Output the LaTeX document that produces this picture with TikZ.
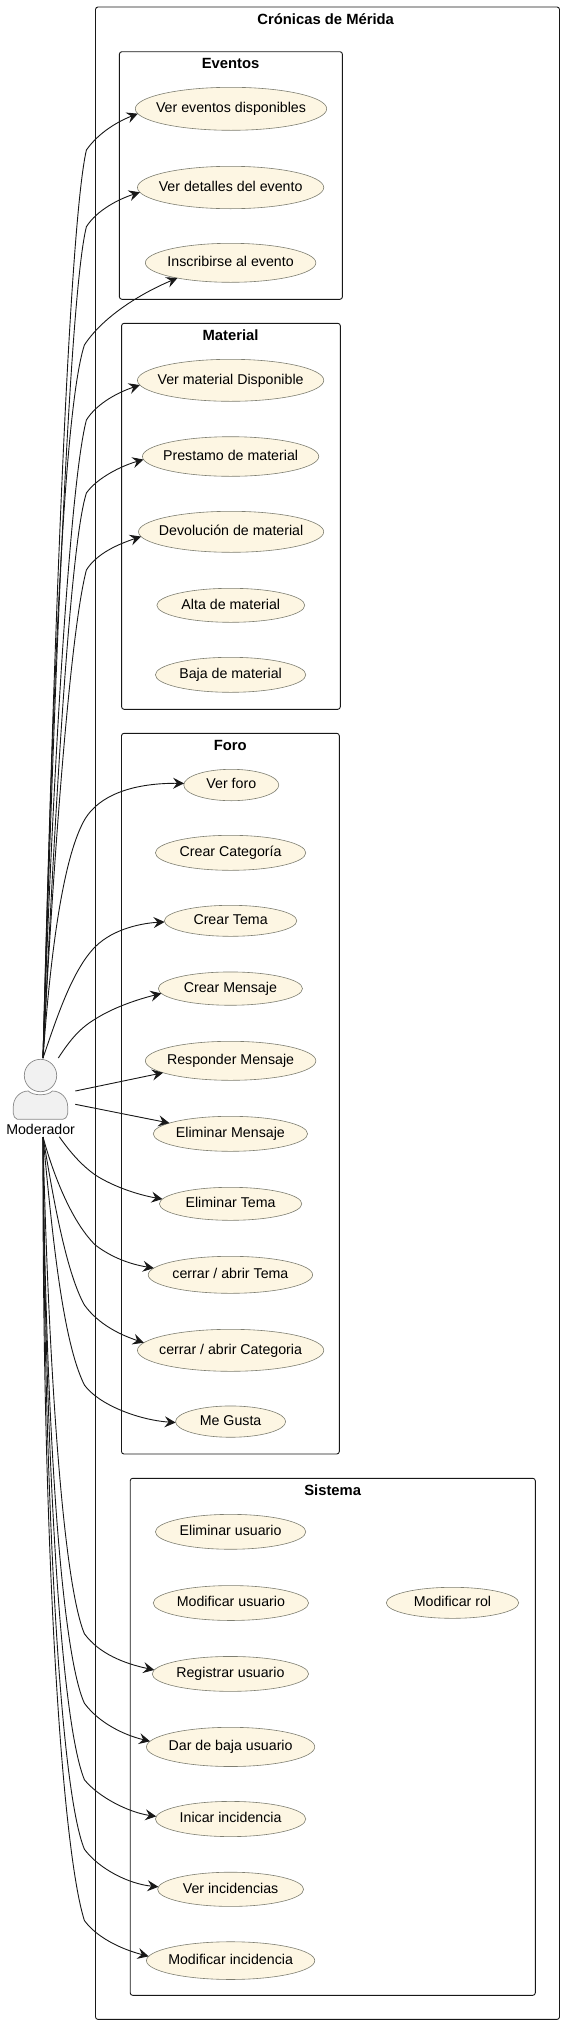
\documentclass[tikz,border=0pt]{standalone}
\usepackage{fontspec}
\setmainfont{Liberation Sans}
\usetikzlibrary{shapes.geometric,arrows.meta}
\definecolor{ink}{HTML}{181818}
\definecolor{ucfill}{HTML}{FDF6E3}
\definecolor{ucline}{HTML}{7F7F72}
\definecolor{actfill}{HTML}{F1F1F1}
\definecolor{actline}{HTML}{8A8A8A}
\tikzset{
  usecase/.style={ellipse,draw=ucline,fill=ucfill,line width=0.6pt,inner sep=0pt,outer sep=0pt},
  uclabel/.style={font=\fontsize{14.2}{16}\selectfont,text=black,inner sep=0pt,text height=10.4pt,text depth=3pt},
  frame/.style={draw=ink,line width=0.9pt,rounded corners=2.5pt,fill=none},
  frametitle/.style={font=\fontsize{14.8}{16}\selectfont\bfseries,text=black,inner sep=0pt},
  conn/.style={draw=ink,line width=0.9pt,-{Stealth[length=11pt,width=11pt,inset=4pt]}},
  actorpart/.style={draw=actline,fill=actfill,line width=0.7pt}
}
% name, cx, cy, width, height, text
\newcommand{\ucnode}[6]{\node[usecase,minimum width=#4pt,minimum height=#5pt,label={[uclabel]center:{#6}}] (#1) at (#2,#3) {};}
\begin{document}
\begin{tikzpicture}[x=1pt,y=-1pt]
\useasboundingbox (0,0) rectangle (564,2024);
\fill[white] (0,0) rectangle (564,2024);
% frames
\draw[frame] (95.5,7) rectangle (559.5,2019.4);
\draw[frame] (119.4,51.7) rectangle (342.4,299.3);
\draw[frame] (121.6,323.3) rectangle (340.3,709.3);
\draw[frame] (121.5,733.3) rectangle (339.3,1454);
\draw[frame] (130.2,1478.3) rectangle (535.3,1995.3);
\node[frametitle] (tCron) at (325.7,19.3) {Crónicas de Mérida};
\node[frametitle] (tEve) at (230.6,63.3) {Eventos};
\node[frametitle] (tMat) at (230.6,335) {Material};
\node[frametitle] (tForo) at (230.2,745.3) {Foro};
\node[frametitle] (tSis) at (332.7,1490.2) {Sistema};
% use cases
\ucnode{ve}{231}{108.8}{191.4}{43}{Ver eventos disponibles}
\ucnode{vd}{230.6}{187.5}{186.3}{42.4}{Ver detalles del evento}
\ucnode{ins}{230.6}{262.8}{170.5}{39}{Inscribirse al evento}
\ucnode{vm}{230.6}{380.3}{186.3}{42}{Ver material Disponible}
\ucnode{pr}{230.6}{456.5}{176.3}{39.6}{Prestamo de material}
\ucnode{de}{231.1}{531.8}{185.2}{41}{Devolución de material}
\ucnode{al}{230.8}{605.3}{147.9}{34}{Alta de material}
\ucnode{ba}{230.6}{674.8}{150.4}{35}{Baja de material}
\ucnode{vf}{231.3}{785}{95}{31.4}{Ver foro}
\ucnode{cc}{230.6}{852.8}{150.4}{35}{Crear Categoría}
\ucnode{ct}{230.6}{920.8}{132.4}{31}{Crear Tema}
\ucnode{cm}{230.4}{988.6}{144.2}{33.3}{Crear Mensaje}
\ucnode{rm}{230.6}{1060.8}{170.5}{39}{Responder Mensaje}
\ucnode{em}{230.4}{1133.8}{154.4}{35}{Eliminar Mensaje}
\ucnode{et}{230.6}{1203.8}{142.4}{33}{Eliminar Tema}
\ucnode{cat}{230.4}{1274.8}{164.4}{37}{cerrar / abrir Tema}
\ucnode{cac}{230.6}{1350.3}{186.3}{42}{cerrar / abrir Categoria}
\ucnode{mg}{230.6}{1421.6}{110.1}{31.3}{Me Gusta}
\ucnode{eu}{230.6}{1531.8}{150.4}{34.9}{Eliminar usuario}
\ucnode{mu}{230.9}{1603}{155.4}{34.9}{Modificar usuario}
\ucnode{mr}{452.5}{1602.8}{132.4}{31}{Modificar rol}
\ucnode{ru}{230.4}{1673.9}{156.4}{34.9}{Registrar usuario}
\ucnode{db}{230.6}{1746.9}{168.3}{39.2}{Dar de baja usuario}
\ucnode{ii}{230.6}{1819}{150.4}{35.2}{Inicar incidencia}
\ucnode{vi}{230.6}{1889.3}{146}{34.2}{Ver incidencias}
\ucnode{mi}{230.6}{1960.6}{168.3}{37.7}{Modificar incidencia}
% actor ports
\coordinate (aTop) at (43,1058);
\coordinate (aTR) at (58.3,1058);
\coordinate (aR1) at (75.3,1091);
\coordinate (aR2) at (75.3,1104.3);
\coordinate (aBR) at (59.3,1136.7);
\coordinate (aBot) at (43,1137);
% connectors
\draw[conn] (aTop) .. controls (52,700) and (68,230) .. (86.4,150) .. controls (99,132) and (119,121) .. (ve.183.4);
\draw[conn] (aTop) .. controls (52,760) and (68,300) .. (86.4,226.7) .. controls (97,210) and (119,199) .. (vd.183.3);
\draw[conn] (aTop) .. controls (50,800) and (60,420) .. (84.4,345) .. controls (104,315) and (144,292) .. (ins.196.3);
\draw[conn] (aTop) .. controls (50,840) and (68,490) .. (86.4,420) .. controls (97,403) and (119,392) .. (vm.183.4);
\draw[conn] (aTop) .. controls (52,880) and (68,550) .. (86.4,493) .. controls (97,478) and (121,466) .. (pr.182.3);
\draw[conn] (aTop) .. controls (50,920) and (68,640) .. (86.4,570) .. controls (97,553) and (119,544) .. (de.183.8);
\draw[conn] (aTop) .. controls (50,960) and (62,860) .. (84.4,820) .. controls (102,790) and (144,783) .. (vf.178);
\draw[conn] (aTop) .. controls (56,1020) and (72,970) .. (95.3,946.7) .. controls (114,928) and (144,923) .. (ct.181.3);
\draw[conn] (aTR) .. controls (70,1040) and (80,1028) .. (95.3,1019) .. controls (114,1007) and (139,999) .. (cm.184.8);
\draw[conn] (aR1) -- (rm.190);
\draw[conn] (aR2) -- (em.170.3);
\draw[conn] (aBR) .. controls (72,1155) and (84,1167) .. (95.3,1175) .. controls (114,1187) and (139,1195) .. (et.176);
\draw[conn] (aBot) .. controls (52,1170) and (70,1220) .. (95.3,1245) .. controls (111,1257) and (129,1264) .. (cat.175.8);
\draw[conn] (aBot) .. controls (52,1190) and (65,1270) .. (84.4,1305) .. controls (99,1325) and (121,1335) .. (cac.175);
\draw[conn] (aBot) .. controls (52,1230) and (62,1340) .. (84.4,1385) .. controls (99,1405) and (139,1420) .. (mg.181.1);
\draw[conn] (aBot) .. controls (48,1350) and (62,1580) .. (84.4,1633.7) .. controls (99,1653.6) and (124,1663.5) .. (ru.177.5);
\draw[conn] (aBot) .. controls (45,1400) and (60,1650) .. (84.4,1703.2) .. controls (99,1723) and (124,1735) .. (db.176.9);
\draw[conn] (aBot) .. controls (45,1450) and (60,1720) .. (84.4,1779.7) .. controls (99,1797.6) and (129,1812.4) .. (ii.178.7);
\draw[conn] (aBot) .. controls (44,1500) and (60,1790) .. (84.4,1849.2) .. controls (99,1869) and (129,1884) .. (vi.178.9);
\draw[conn] (aBot) .. controls (42,1550) and (62,1850) .. (84.4,1920.5) .. controls (96,1936.5) and (119,1948.5) .. (mi.177.1);
% actor
\draw[actorpart] (40.5,1075.5) circle (16.2);
\draw[actorpart] (17.3,1119.3) .. controls (15,1118.6) and (13.3,1116) .. (13.3,1113.3)
  -- (13.3,1106.7) .. controls (13.3,1098) and (20,1091) .. (28.3,1091)
  .. controls (33,1096) and (48,1096) .. (52.3,1091)
  .. controls (61,1091) and (67.7,1098) .. (67.7,1106.7)
  -- (67.7,1113.3) .. controls (67.7,1116) and (66,1118.6) .. (62.7,1119.3) -- cycle;
\node[font=\fontsize{14.2}{16}\selectfont,text=black,inner sep=0pt] (actor) at (40.6,1129) {Moderador};
\end{tikzpicture}
\end{document}
